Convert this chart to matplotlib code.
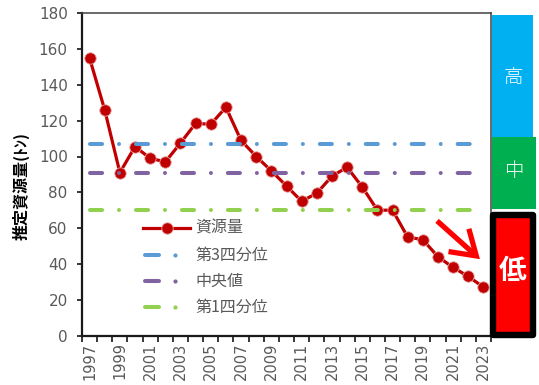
import matplotlib
matplotlib.use("Agg")
import matplotlib.pyplot as plt
import numpy as np
from matplotlib.patches import Rectangle, FancyArrowPatch
from matplotlib.lines import Line2D

# ---- data ----
years = list(range(1997, 2024))
biomass = [155, 126, 91, 105.5, 99, 97, 107.5, 118.5, 118, 127.5, 109, 100, 92,
           83.5, 75, 79.5, 89, 94, 83, 70, 70, 55, 53.5, 44, 38, 33, 27]
q3_value = 107
median_value = 91
q1_value = 70
series_labels = ["資源量", "第3四分位", "中央値", "第1四分位"]
level_labels = ["高", "中", "低"]
ylabel_text = "推定資源量(ﾄﾝ)"

W, H = 539, 385
DPI = 100
CJK = ["Noto Sans CJK JP", "DejaVu Sans"]
GRAY = "#595959"
RED = "#C00000"

fig = plt.figure(figsize=(W / DPI, H / DPI), dpi=DPI)
fig.patch.set_facecolor("white")


def fx(x):
    return x / W


def fy(y):
    return 1 - y / H


ax_l, ax_r, ax_t, ax_b = 82, 491, 13.3, 335.5
ax = fig.add_axes([fx(ax_l), fy(ax_b), fx(ax_r - ax_l), (ax_b - ax_t) / H])

x = np.arange(len(years))
n = len(years)

marker_kw = dict(marker="o", markersize=8.2, markerfacecolor=RED,
                 markeredgecolor="#E8A0A0", markeredgewidth=0.6)

# resource series
ax.plot(x, biomass, color=RED, lw=2.3, zorder=3, **marker_kw)

# reference levels (dash-dot, round caps), drawn above the series
lw_ref = 2.9
dash = (0, (3.0, 4.2, 0.01, 4.2))
ref_styles = [(q3_value, "#5B9BD5"), (median_value, "#8064A2"), (q1_value, "#92D050")]
for val, col in ref_styles:
    ax.plot([x[0], x[-1]], [val, val], color=col, lw=lw_ref, linestyle=dash,
            dash_capstyle="round", solid_capstyle="round", zorder=4)

ax.set_xlim(-0.5, n - 0.5)
ax.set_ylim(0, 180)
ax.set_yticks(np.arange(0, 181, 20))

# category axis: ticks on boundaries, labels every other year
ax.set_xticks(np.arange(-0.5, n, 1.0), minor=True)
ax.set_xticks(x[::2])
ax.set_xticklabels([str(y) for y in years[::2]], rotation=90)
ax.tick_params(axis="x", which="major", length=0, pad=5, labelsize=10.5, labelcolor=GRAY)
ax.tick_params(axis="x", which="minor", length=4.3, width=1.3, direction="out", color="#262626")
ax.tick_params(axis="y", length=3.8, width=1.3, direction="out", pad=6.5,
               labelsize=11, labelcolor=GRAY, color="#262626")

for side in ("left", "bottom"):
    ax.spines[side].set_linewidth(1.6)
    ax.spines[side].set_color("#1a1a1a")
for side in ("top", "right"):
    ax.spines[side].set_linewidth(1.1)
    ax.spines[side].set_color("#404040")

# legend, laid out by hand so the dash-dot keys read as dash + dot
row_y = [228, 255, 281, 307]
key_x0, key_x1, text_x = 143, 190, 195
fig.add_artist(Line2D([fx(key_x0), fx(key_x1)], [fy(row_y[0])] * 2, color=RED, lw=2.3,
                      transform=fig.transFigure))
fig.add_artist(Line2D([fx((key_x0 + key_x1) / 2)], [fy(row_y[0])], linestyle="none",
                      transform=fig.transFigure, **marker_kw))
for (val, col), yy in zip(ref_styles, row_y[1:]):
    fig.add_artist(Line2D([fx(key_x0 + 2), fx(key_x0 + 16)], [fy(yy)] * 2, color=col,
                          lw=lw_ref, solid_capstyle="round", transform=fig.transFigure))
    fig.add_artist(Line2D([fx(175)], [fy(yy)], color=col, marker="o", markersize=3.0,
                          markeredgewidth=0, linestyle="none", transform=fig.transFigure))
for lab, yy in zip(series_labels, row_y):
    fig.text(fx(text_x), fy(yy), lab, ha="left", va="center", family=CJK,
             fontsize=11.5, color=GRAY)

fig.text(fx(21), fy(186), ylabel_text, rotation=90, ha="center", va="center",
         family=CJK, fontsize=11.5, fontweight="bold", color="black")

# level boxes on the right
fig.add_artist(Rectangle((fx(492.3), fy(137.3)), fx(533.3 - 492.3), (137.3 - 15) / H,
                         transform=fig.transFigure, facecolor="#00B0F0", edgecolor="none"))
fig.add_artist(Rectangle((fx(492.3), fy(209.3)), fx(536 - 492.3), (209.3 - 137.3) / H,
                         transform=fig.transFigure, facecolor="#00B050", edgecolor="none"))
fig.add_artist(Rectangle((fx(492.5), fy(335.2)), fx(532.8 - 492.5), (335.2 - 214.8) / H,
                         transform=fig.transFigure, facecolor="#FF0000", edgecolor="black",
                         linewidth=4.6, joinstyle="round"))
fig.text(fx(513), fy(78), level_labels[0], ha="center", va="center", family=CJK,
         fontsize=14, fontweight="light", color="white")
fig.text(fx(514), fy(172), level_labels[1], ha="center", va="center", family=CJK,
         fontsize=14, fontweight="light", color="white")
fig.text(fx(513), fy(271), level_labels[2], ha="center", va="center", family=CJK,
         fontsize=20, fontweight="bold", color="white")

# downward arrow
fig.add_artist(FancyArrowPatch((fx(435), fy(219)), (fx(482), fy(261)),
                               transform=fig.transFigure,
                               arrowstyle="->,head_length=17,head_width=11",
                               mutation_scale=1, color="#FF0000", lw=3.8,
                               capstyle="butt", joinstyle="miter"))

fig.savefig("out.png", dpi=DPI, facecolor="white")
